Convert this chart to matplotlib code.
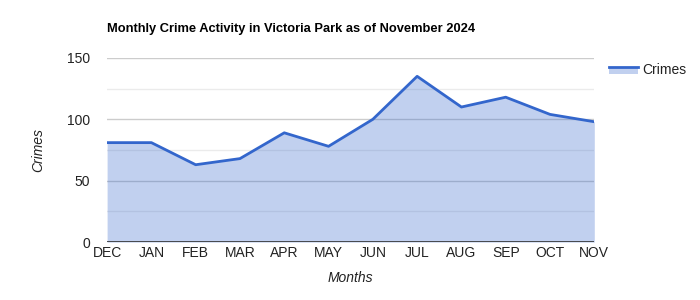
import numpy as np
import matplotlib.pyplot as plt
from matplotlib.patches import Rectangle
from matplotlib.lines import Line2D
from matplotlib.legend_handler import HandlerBase

plt.rcParams['font.family'] = ['Liberation Sans', 'DejaVu Sans']

months = ['DEC', 'JAN', 'FEB', 'MAR', 'APR', 'MAY', 'JUN', 'JUL', 'AUG', 'SEP', 'OCT', 'NOV']
crimes = [81, 81, 63, 68, 89, 78, 100, 135, 110, 118, 104, 98]

line_col = '#3366cc'


class AreaHandler(HandlerBase):
    # google-style area legend: line on top of a filled box
    def create_artists(self, legend, orig_handle, xdescent, ydescent,
                       width, height, fontsize, trans):
        top = height * 0.75
        rect = Rectangle((-xdescent, -ydescent), width, top, facecolor=line_col,
                         alpha=0.3, linewidth=0, transform=trans)
        ln = Line2D([-xdescent, -xdescent + width], [top - ydescent] * 2,
                    color=line_col, linewidth=2, transform=trans)
        return [rect, ln]


fig = plt.figure(figsize=(7, 3), dpi=100)
ax = fig.add_axes([0.153, 0.193, 0.696, 0.614])

x = np.arange(len(months))
ax.fill_between(x, crimes, 0, color=line_col, alpha=0.3, linewidth=0, zorder=2)
ax.plot(x, crimes, color=line_col, linewidth=2, zorder=3)

ax.set_xlim(0, len(months) - 1)
ax.set_ylim(0, 150)
ax.set_yticks([0, 50, 100, 150])
ax.set_yticks([25, 75, 125], minor=True)
ax.set_xticks(x)
ax.set_xticklabels(months)

ax.grid(True, which='major', axis='y', color='#cccccc', linewidth=1, zorder=1)
ax.grid(True, which='minor', axis='y', color='#ebebeb', linewidth=1, zorder=1)
ax.axhline(0, color='#333333', linewidth=1.2, zorder=4)

for s in ax.spines.values():
    s.set_visible(False)
ax.tick_params(axis='both', which='both', length=0, labelsize=10, colors='#222222')
ax.tick_params(axis='y', pad=12)
ax.tick_params(axis='x', pad=3)

ax.set_xlabel('Months', fontsize=10, style='italic', color='#222222', labelpad=8)
ax.set_ylabel('Crimes', fontsize=10, style='italic', color='#222222', labelpad=16)

fig.text(0.153, 0.903, 'Monthly Crime Activity in Victoria Park as of November 2024',
         fontsize=9.3, fontweight='bold', color='#000000', va='center')

ax.legend(['area'], ['Crimes'], handler_map={str: AreaHandler()},
          loc='upper left', bbox_to_anchor=(1.005, 1.04),
          frameon=False, fontsize=10, handlelength=2.1, handletextpad=0.3,
          labelcolor='#222222')

plt.savefig('out.png', dpi=100)
